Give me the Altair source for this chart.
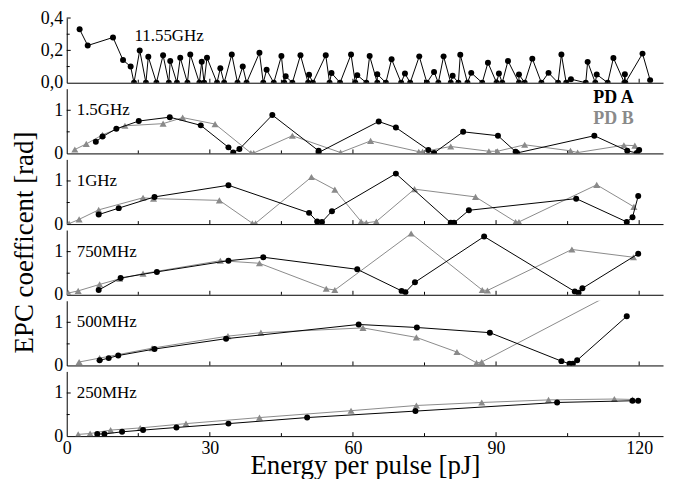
import altair as alt
import pandas as pd

FONT = "Liberation Serif"
GRAY = "#8a8a8a"
X_DOMAIN = [0, 125]
W, H = 599, 65

x_major = [30, 60, 90, 120]
x_minor = [15, 45, 75, 105]

# 11.55 GHz (PD A only)
top_e = [2.7, 4.4, 9.7, 11.8, 13.4, 14.1, 15.3, 16.6, 17.1, 18.8, 20.2, 21.4, 21.7, 23.1, 23.8,
         25.3, 25.9, 27.8, 28.3, 28.8, 29.4, 31.5, 32.2, 33.0, 34.6, 35.8, 36.9, 37.7, 40.4, 41.2,
         41.9, 43.4, 45.0, 45.6, 45.9, 47.3, 49.0, 50.6, 50.8, 51.6, 54.3, 55.1, 55.5, 57.3, 59.6,
         60.5, 60.9, 62.8, 63.5, 65.1, 65.1, 66.9, 68.1, 70.1, 70.9, 72.0, 73.9, 75.5, 77.0, 77.9,
         79.0, 80.5, 80.9, 82.1, 82.5, 84.0, 84.8, 87.1, 88.3, 90.1, 90.6, 91.3, 92.5, 94.8, 94.8,
         96.0, 97.6, 99.5, 101.0, 103.0, 103.7, 104.7, 105.7, 108.8, 109.2, 110.8, 111.1, 113.4,
         114.6, 116.9, 117.0, 117.1, 120.7, 122.3]
top_v = [0.33, 0.23, 0.28, 0.14, 0.10, 0.0, 0.20, 0.0, 0.16, 0.0, 0.17, 0.0, 0.135, 0.0, 0.155,
         0.0, 0.175, 0.0, 0.13, 0.0, 0.155, 0.0, 0.09, 0.0, 0.175, 0.0, 0.10, 0.0, 0.185, 0.0,
         0.08, 0.0, 0.165, 0.0, 0.04, 0.0, 0.17, 0.0, 0.05, 0.0, 0.17, 0.0, 0.06, 0.0, 0.175,
         0.0, 0.047, 0.0, 0.165, 0.0, 0.053, 0.0, 0.145, 0.0, 0.057, 0.0, 0.163, 0.0, 0.067, 0.0,
         0.163, 0.0, 0.043, 0.0, 0.173, 0.0, 0.061, 0.0, 0.124, 0.0, 0.057, 0.0, 0.135, 0.0, 0.051,
         0.0, 0.149, 0.0, 0.061, 0.0, 0.175, 0.0, 0.022, 0.0, 0.129, 0.0, 0.051, 0.0,
         0.153, 0.0, 0.053, 0.0, 0.18, 0.016]

# 1.5 GHz
g15_a_e = [6.1, 7.5, 10.4, 15.1, 21.6, 28.1, 33.9, 34.9, 36.2, 43.1, 52.8, 52.8, 65.4, 69.0, 75.8,
           77.0, 83.1, 90.4, 94.1, 94.4, 110.6, 117.5, 119.5, 120.0]
g15_a_v = [0.27, 0.39, 0.57, 0.75, 0.84, 0.65, 0.14, 0.02, 0.10, 0.89, 0.06, 0.02, 0.74, 0.60, 0.08,
           0.01, 0.50, 0.41, 0.04, 0.01, 0.41, 0.06, 0.01, 0.08]
g15_b_e = [1.7, 4.1, 7.5, 12.2, 20.2, 24.3, 31.1, 38.6, 39.2, 47.3, 57.4, 63.7, 73.8, 74.6, 80.5,
           88.5, 90.3, 96.0, 105.6, 107.1, 116.8, 119.1, 119.7]
g15_b_v = [0.09, 0.22, 0.43, 0.64, 0.69, 0.83, 0.68, 0.01, 0.01, 0.41, 0.02, 0.29, 0.04, 0.04, 0.16,
           0.05, 0.05, 0.20, 0.06, 0.02, 0.19, 0.18, 0.05]

# 1 GHz
g1_a_e = [6.7, 10.9, 18.4, 33.9, 50.8, 52.5, 53.5, 55.6, 69.0, 80.5, 81.2, 84.3, 106.8, 117.4, 118.6, 119.8]
g1_a_v = [0.22, 0.37, 0.63, 0.90, 0.26, 0.06, 0.05, 0.30, 1.17, 0.03, 0.03, 0.32, 0.59, 0.05, 0.16, 0.65]
g1_b_e = [0.5, 2.6, 6.7, 16.0, 18.2, 32.0, 38.9, 39.6, 51.3, 56.2, 61.7, 62.8, 64.9, 72.9, 85.7,
          94.1, 94.8, 111.1, 118.9]
g1_b_v = [0.01, 0.11, 0.33, 0.61, 0.59, 0.55, 0.02, 0.02, 1.09, 0.80, 0.06, 0.03, 0.06, 0.81, 0.63,
          0.05, 0.05, 0.91, 0.40]

# 750 MHz
m750_a_e = [6.7, 11.3, 18.9, 33.9, 41.2, 60.9, 70.2, 71.0, 73.0, 87.5, 106.5, 107.3, 108.1, 119.8]
m750_a_v = [0.11, 0.39, 0.53, 0.79, 0.87, 0.59, 0.09, 0.06, 0.29, 1.35, 0.075, 0.045, 0.15, 0.95]
m750_b_e = [0.35, 2.4, 6.9, 11.1, 16.0, 32.2, 40.4, 54.4, 56.2, 72.2, 87.1, 88.2, 105.9, 118.8]
m750_b_v = [0.04, 0.09, 0.24, 0.37, 0.49, 0.79, 0.73, 0.14, 0.11, 1.42, 0.11, 0.10, 1.05, 0.87]

# 500 MHz
m500_a_e = [6.9, 8.8, 10.8, 18.4, 33.4, 61.2, 73.4, 88.7, 103.7, 105.4, 106.1, 107.0, 117.4]
m500_a_v = [0.12, 0.17, 0.23, 0.38, 0.62, 0.95, 0.88, 0.76, 0.10, 0.04, 0.04, 0.12, 1.14]
m500_b_e = [2.6, 6.9, 17.9, 33.8, 40.7, 62.1, 73.3, 81.8, 85.9, 87.0, 122.0]
m500_b_v = [0.08, 0.17, 0.40, 0.68, 0.76, 0.87, 0.65, 0.31, 0.06, 0.08, 2.11]

# 250 MHz
m250_a_e = [6.4, 7.9, 11.6, 16.0, 23.0, 33.9, 50.4, 73.1, 102.8, 118.6, 119.8]
m250_a_v = [0.05, 0.05, 0.10, 0.14, 0.20, 0.29, 0.43, 0.58, 0.78, 0.82, 0.82]
m250_b_e = [2.4, 4.9, 9.2, 15.4, 25.0, 40.4, 59.6, 73.3, 87.0, 101.0, 114.8, 118.6]
m250_b_v = [0.04, 0.06, 0.14, 0.19, 0.29, 0.43, 0.59, 0.71, 0.78, 0.84, 0.86, 0.85]


def make_x(bottom):
    if bottom:
        ax = alt.Axis(values=[0, 30, 60, 90, 120], ticks=False, grid=False, labelPadding=3,
                      labelFontSize=18, title="Energy per pulse [pJ]", titleFontSize=27,
                      titleFontWeight="normal", titleY=38, titleBaseline="alphabetic",
                      labelFlush=False)
    else:
        ax = alt.Axis(values=[0, 30, 60, 90, 120], ticks=False, grid=False, labels=False, title=None)
    return alt.X("E:Q", scale=alt.Scale(domain=X_DOMAIN, nice=False, zero=False), axis=ax)


def make_y(ydom, ylab, top, ytitle):
    kw = dict(values=ylab, ticks=False, grid=False, labelPadding=4, labelFontSize=18)
    if top:
        kw["labelExpr"] = "replace(format(datum.value, '.1f'), '.', ',')"
    if ytitle:
        kw.update(title="EPC coefficent [rad]", titleFontSize=27, titleFontWeight="normal",
                  titleX=-42, titleY=12, titleAlign="center", titleBaseline="middle")
    else:
        kw["title"] = None
    return alt.Y("v:Q", scale=alt.Scale(domain=ydom, nice=False, zero=False), axis=alt.Axis(**kw))


def series(e, v, color, shape, size, X, Y):
    df = pd.DataFrame({"E": e, "v": v, "i": list(range(len(e)))})
    base = alt.Chart(df)
    line = base.mark_line(color=color, strokeWidth=1, clip=True).encode(x=X, y=Y, order="i:Q")
    pts = base.mark_point(color=color, fill=color, filled=True, shape=shape, size=size,
                          opacity=1, clip=True).encode(x=X, y=Y)
    return [line, pts]


def panel(a_e, a_v, b_e, b_v, ydom, ylab, ymajor, yminor, label, lx, ly,
          top=False, bottom=False, ytitle=False, legend=False):
    X = make_x(bottom)
    Y = make_y(ydom, ylab, top, ytitle)
    layers = []
    # inward ticks
    layers.append(alt.Chart(pd.DataFrame({"E": x_major})).mark_rule(color="black", strokeWidth=1)
                  .encode(x=X, y=alt.value(H), y2=alt.value(H - 4)))
    layers.append(alt.Chart(pd.DataFrame({"E": x_minor})).mark_rule(color="black", strokeWidth=1)
                  .encode(x=X, y=alt.value(H), y2=alt.value(H - 3)))
    layers.append(alt.Chart(pd.DataFrame({"v": ymajor})).mark_rule(color="black", strokeWidth=1)
                  .encode(y=Y, x=alt.value(0), x2=alt.value(4)))
    layers.append(alt.Chart(pd.DataFrame({"v": yminor})).mark_rule(color="black", strokeWidth=1)
                  .encode(y=Y, x=alt.value(0), x2=alt.value(3)))
    if b_e is not None:
        layers += series(b_e, b_v, GRAY, "triangle-up", 50, X, Y)
    layers += series(a_e, a_v, "black", "circle", 36, X, Y)
    layers.append(alt.Chart(pd.DataFrame({"t": [label]})).mark_text(
        font=FONT, fontSize=17, align="left", baseline="middle", color="black")
        .encode(text="t:N", x=alt.value(lx), y=alt.value(ly)))
    if legend:
        layers.append(alt.Chart(pd.DataFrame({"t": ["PD A"]})).mark_text(
            font=FONT, fontSize=18, fontWeight="bold", align="left", baseline="middle", color="black")
            .encode(text="t:N", x=alt.value(529), y=alt.value(9)))
        layers.append(alt.Chart(pd.DataFrame({"t": ["PD B"]})).mark_text(
            font=FONT, fontSize=18, fontWeight="bold", align="left", baseline="middle", color=GRAY)
            .encode(text="t:N", x=alt.value(529), y=alt.value(30)))
    return alt.layer(*layers).properties(width=W, height=H)


LOW = [0, 1.5]
ly_low = H - H / 1.5

p1 = panel(top_e, top_v, None, None, [0, 0.4], [0, 0.2, 0.4], [0.2, 0.4], [0.1, 0.3],
           "11.55GHz", 68, H - 0.29 / 0.4 * H, top=True)
p2 = panel(g15_a_e, g15_a_v, g15_b_e, g15_b_v, LOW, [0, 1], [1], [0.5], "1.5GHz", 10, ly_low, legend=True)
p3 = panel(g1_a_e, g1_a_v, g1_b_e, g1_b_v, LOW, [0, 1], [1], [0.5], "1GHz", 10, ly_low)
p4 = panel(m750_a_e, m750_a_v, m750_b_e, m750_b_v, LOW, [0, 1], [1], [0.5], "750MHz", 10, ly_low, ytitle=True)
p5 = panel(m500_a_e, m500_a_v, m500_b_e, m500_b_v, LOW, [0, 1], [1], [0.5], "500MHz", 10, ly_low)
p6 = panel(m250_a_e, m250_a_v, m250_b_e, m250_b_v, LOW, [0, 1], [1], [0.5], "250MHz", 10, ly_low, bottom=True)

chart = alt.vconcat(p1, p2, p3, p4, p5, p6, spacing=6, bounds="flush").properties(
    padding={"left": 2, "top": 0, "right": 5, "bottom": 0}
).configure_view(stroke=None).configure_axis(
    domainColor="black", domainWidth=1, labelColor="black", titleColor="black",
    labelFont=FONT, titleFont=FONT
).configure_text(font=FONT)

chart.save("out.html", embed_options={"renderer": "svg", "actions": False})
